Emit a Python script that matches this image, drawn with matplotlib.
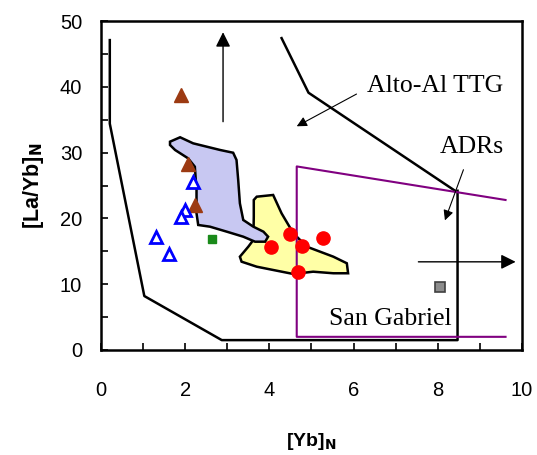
import matplotlib
matplotlib.use("Agg")
import matplotlib.pyplot as plt
from matplotlib.ticker import MultipleLocator

# ---- data ----
brown_x = [1.90, 2.07, 2.23]
brown_y = [38.8, 28.3, 22.1]
blue_x = [2.19, 2.00, 1.90, 1.30, 1.62]
blue_y = [25.5, 21.3, 20.2, 17.2, 14.6]
green_x = [2.63]
green_y = [16.8]
gray_x = [8.05]
gray_y = [9.5]
red_x = [4.03, 4.49, 4.78, 5.28, 4.69]
red_y = [15.7, 17.6, 15.8, 17.0, 11.8]

outer_x = [0.21, 0.21, 1.03, 2.87, 8.47, 8.47]
outer_y = [47.1, 34.4, 8.2, 1.5, 1.5, 24.2]
upper_x = [4.29, 4.93, 8.41]
upper_y = [47.4, 39.1, 24.2]
purple_x = [9.61, 4.65, 4.65, 9.61]
purple_y = [22.8, 27.9, 2.0, 2.0]

blue_poly_x = [1.64, 1.88, 2.19, 2.83, 3.14, 3.22, 3.26, 3.30, 3.38, 3.62, 3.86,
               3.97, 3.90, 3.66, 3.38, 2.99, 2.59, 2.31, 2.27, 2.27, 2.23, 2.07,
               1.76, 1.64]
blue_poly_y = [31.66, 32.33, 31.41, 30.40, 29.98, 28.88, 25.84, 22.29, 19.76,
               18.74, 17.98, 17.22, 16.46, 16.46, 17.22, 17.98, 18.74, 19.0,
               20.77, 24.32, 27.86, 29.13, 30.40, 31.16]
yellow_poly_x = [3.70, 4.09, 4.29, 4.57, 4.89, 5.52, 5.84, 5.87, 5.52, 5.04,
                 4.57, 4.09, 3.70, 3.34, 3.30, 3.50, 3.62, 3.63, 3.63]
yellow_poly_y = [23.30, 23.56, 20.77, 17.74, 15.70, 14.18, 13.18, 11.66, 11.66,
                 11.90, 11.55, 12.16, 12.66, 13.42, 14.18, 15.70, 16.72, 20.26,
                 22.80]

x_ticks = [0, 2, 4, 6, 8, 10]
y_ticks = [0, 10, 20, 30, 40, 50]

fig = plt.figure(figsize=(5.37, 4.55), dpi=100)
ax = fig.add_axes([0.188, 0.2308, 0.784, 0.723])

ax.fill(yellow_poly_x, yellow_poly_y, facecolor="#FFFFA6", edgecolor="black",
        linewidth=1.8, zorder=2)
ax.fill(blue_poly_x, blue_poly_y, facecolor="#C8C8F2", edgecolor="black",
        linewidth=1.8, zorder=3)

ax.plot(outer_x, outer_y, color="black", linewidth=1.8, zorder=4)
ax.plot(upper_x, upper_y, color="black", linewidth=1.8, zorder=4)
ax.plot(purple_x, purple_y, color="#800080", linewidth=1.5, zorder=4)

# arrows
arrow_kw = dict(arrowstyle="-|>", color="black", linewidth=1.0,
                mutation_scale=22, shrinkA=0, shrinkB=0)
ax.annotate("", xy=(2.90, 48.3), xytext=(2.90, 34.7), arrowprops=arrow_kw, zorder=5)
ax.annotate("", xy=(9.85, 13.4), xytext=(7.54, 13.4), arrowprops=arrow_kw, zorder=5)
small_kw = dict(arrowstyle="-|>", color="black", linewidth=0.8,
                mutation_scale=15, shrinkA=0, shrinkB=0)
ax.annotate("", xy=(4.65, 34.0), xytext=(6.07, 38.9), arrowprops=small_kw, zorder=5)
ax.annotate("", xy=(8.17, 19.7), xytext=(8.61, 27.4), arrowprops=small_kw, zorder=5)

# points
ax.plot(brown_x, brown_y, linestyle="none", marker="^", markersize=9.5,
        color="#9C3A12", zorder=6)
ax.plot(blue_x, blue_y, linestyle="none", marker="^", markersize=8.5,
        markerfacecolor="white", markeredgecolor="#0000FF", markeredgewidth=2.0,
        zorder=6)
ax.plot(green_x, green_y, linestyle="none", marker="s", markersize=6,
        color="#1A8A1A", zorder=6)
ax.plot(gray_x, gray_y, linestyle="none", marker="s", markersize=7.5,
        markerfacecolor="#8C8C8C", markeredgecolor="#404040", markeredgewidth=1.2,
        zorder=6)
ax.plot(red_x, red_y, linestyle="none", marker="o", markersize=9.5,
        color="#FF0000", zorder=6)

# texts
serif = "Liberation Serif"
ax.text(6.33, 40.1, "Alto-Al TTG", fontsize=18.5, family=serif, va="center", ha="left")
ax.text(8.05, 30.9, "ADRs", fontsize=18.5, family=serif, va="center", ha="left")
ax.text(5.42, 4.7, "San Gabriel", fontsize=18.5, family=serif, va="center", ha="left")

ax.set_xlim(0, 10)
ax.set_ylim(0, 50)
ax.set_xticks(x_ticks)
ax.set_yticks(y_ticks)
ax.xaxis.set_minor_locator(MultipleLocator(1))
ax.yaxis.set_minor_locator(MultipleLocator(5))
ax.tick_params(which="both", direction="in", length=5, width=1.2,
               top=False, right=False)
ax.tick_params(axis="x", which="major", pad=22)
ax.tick_params(axis="y", which="major", pad=13.5)
for lab in ax.get_xticklabels() + ax.get_yticklabels():
    lab.set_family("Liberation Sans")
    lab.set_fontsize(14.5)
for s in ax.spines.values():
    s.set_linewidth(1.8)

ax.set_xlabel(r"[Yb]$_\mathbf{N}$", fontsize=14, fontweight="bold",
              family="Liberation Sans", labelpad=23)
ax.set_ylabel(r"[La/Yb]$_\mathbf{N}$", fontsize=15.5, fontweight="bold",
              family="Liberation Sans", labelpad=10)

fig.savefig("out.png", dpi=100)
